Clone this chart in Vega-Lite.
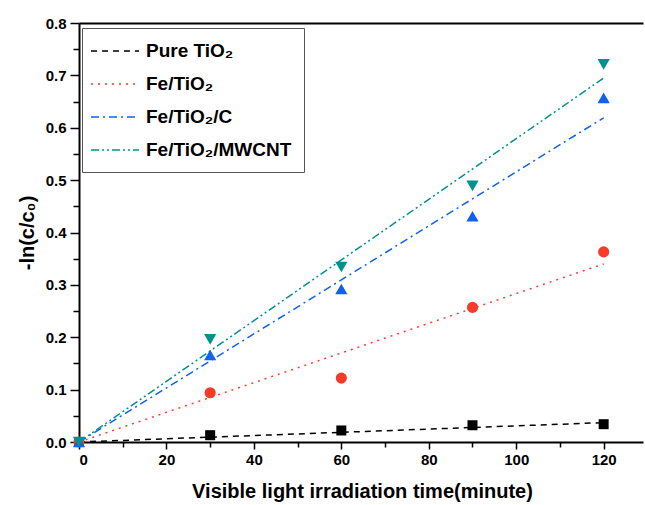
{
  "$schema": "https://vega.github.io/schema/vega-lite/v6.json",
  "width": 564,
  "height": 419,
  "autosize": "none",
  "padding": {"left": 79, "top": 23, "right": 2, "bottom": 63},
  "config": {
    "font": "Liberation Sans",
    "view": {"stroke": null},
    "axis": {"labelFontWeight": "bold", "titleFontWeight": "bold", "labelColor": "black", "titleColor": "black", "domainColor": "black", "tickColor": "black", "grid": false}
  },
  "datasets": {
    "points": [
      {"t": 0, "y": 0, "sample": "Pure TiO₂"},
      {"t": 30, "y": 0.013, "sample": "Pure TiO₂"},
      {"t": 60, "y": 0.022, "sample": "Pure TiO₂"},
      {"t": 90, "y": 0.032, "sample": "Pure TiO₂"},
      {"t": 120, "y": 0.034, "sample": "Pure TiO₂"},
      {"t": 0, "y": 0, "sample": "Fe/TiO₂"},
      {"t": 30, "y": 0.094, "sample": "Fe/TiO₂"},
      {"t": 60, "y": 0.122, "sample": "Fe/TiO₂"},
      {"t": 90, "y": 0.257, "sample": "Fe/TiO₂"},
      {"t": 120, "y": 0.363, "sample": "Fe/TiO₂"},
      {"t": 0, "y": 0, "sample": "Fe/TiO₂/C"},
      {"t": 30, "y": 0.166, "sample": "Fe/TiO₂/C"},
      {"t": 60, "y": 0.292, "sample": "Fe/TiO₂/C"},
      {"t": 90, "y": 0.431, "sample": "Fe/TiO₂/C"},
      {"t": 120, "y": 0.657, "sample": "Fe/TiO₂/C"},
      {"t": 0, "y": 0, "sample": "Fe/TiO₂/MWCNT"},
      {"t": 30, "y": 0.196, "sample": "Fe/TiO₂/MWCNT"},
      {"t": 60, "y": 0.334, "sample": "Fe/TiO₂/MWCNT"},
      {"t": 90, "y": 0.489, "sample": "Fe/TiO₂/MWCNT"},
      {"t": 120, "y": 0.721, "sample": "Fe/TiO₂/MWCNT"}
    ],
    "fits": [
      {"t": 0, "y": 0, "series": "Pure TiO₂"},
      {"t": 120, "y": 0.037, "series": "Pure TiO₂"},
      {"t": 0, "y": 0, "series": "Fe/TiO₂"},
      {"t": 120, "y": 0.34, "series": "Fe/TiO₂"},
      {"t": 0, "y": 0, "series": "Fe/TiO₂/C"},
      {"t": 120, "y": 0.619, "series": "Fe/TiO₂/C"},
      {"t": 0, "y": 0, "series": "Fe/TiO₂/MWCNT"},
      {"t": 120, "y": 0.695, "series": "Fe/TiO₂/MWCNT"}
    ]
  },
  "resolve": {"axis": {"x": "independent", "y": "independent"}},
  "layer": [
    {
      "data": {"name": "fits"},
      "mark": {"type": "line", "strokeWidth": 1.5},
      "encoding": {
        "x": {"field": "t", "type": "quantitative", "scale": {"domain": [0, 129], "nice": false, "zero": false},
          "axis": {"orient": "bottom", "title": "Visible light irradiation time(minute)", "values": [0, 20, 40, 60, 80, 100, 120], "labelFontSize": 15, "titleFontSize": 20, "tickSize": 7, "tickWidth": 1.5, "domainWidth": 2, "labelPadding": 3, "titlePadding": 14, "titleX": 283}},
        "y": {"field": "y", "type": "quantitative", "scale": {"domain": [0, 0.8], "nice": false},
          "axis": {"orient": "left", "title": "-ln(c/c₀)", "values": [0, 0.1, 0.2, 0.3, 0.4, 0.5, 0.6, 0.7, 0.8], "format": ".1f", "labelFontSize": 15, "titleFontSize": 20, "tickSize": 9, "tickWidth": 1.5, "domainWidth": 2, "labelPadding": 4, "titlePadding": 8}},
        "color": {"field": "series", "type": "nominal",
          "scale": {"domain": ["Pure TiO₂", "Fe/TiO₂", "Fe/TiO₂/C", "Fe/TiO₂/MWCNT"], "range": ["#000000", "#f83a2a", "#1060f2", "#00928e"]},
          "legend": {"title": null, "orient": "none", "legendX": 3, "legendY": 5, "symbolType": "M-1.4,0L3.4,0", "symbolSize": 400, "symbolStrokeWidth": 1.5, "labelFontSize": 19, "labelFontWeight": "bold", "labelColor": "black", "labelOffset": 30, "rowPadding": 12, "padding": 12, "strokeColor": "#555555", "fillColor": "white", "labelLimit": 300}},
        "strokeDash": {"field": "series", "type": "nominal",
          "scale": {"domain": ["Pure TiO₂", "Fe/TiO₂", "Fe/TiO₂/C", "Fe/TiO₂/MWCNT"], "range": [[6, 5], [2, 5], [8, 4, 2, 4], [8, 3, 2, 3, 2, 3]]},
          "legend": {"title": null, "orient": "none", "legendX": 3, "legendY": 5, "symbolType": "M-1.4,0L3.4,0", "symbolSize": 400, "symbolStrokeWidth": 1.5, "labelFontSize": 19, "labelFontWeight": "bold", "labelColor": "black", "labelOffset": 30, "rowPadding": 12, "padding": 12, "strokeColor": "#555555", "fillColor": "white", "labelLimit": 300}}
      }
    },
    {
      "data": {"name": "points"},
      "transform": [{"filter": "datum.sample === 'Pure TiO₂'"}],
      "mark": {"type": "point", "filled": true, "opacity": 1, "strokeWidth": 0, "shape": "square", "size": 100, "color": "#000000"},
      "encoding": {
        "x": {"field": "t", "type": "quantitative",
          "axis": {"orient": "bottom", "title": null, "values": [10, 30, 50, 70, 90, 110], "labels": false, "domain": false, "tickSize": 5, "tickWidth": 1.5}},
        "y": {"field": "y", "type": "quantitative",
          "axis": {"orient": "left", "title": null, "values": [0.05, 0.15, 0.25, 0.35, 0.45, 0.55, 0.65, 0.75], "labels": false, "domain": false, "tickSize": 6, "tickWidth": 1.5}}
      }
    },
    {
      "data": {"name": "points"},
      "transform": [{"filter": "datum.sample === 'Fe/TiO₂'"}],
      "mark": {"type": "point", "filled": true, "opacity": 1, "strokeWidth": 0, "shape": "circle", "size": 125, "color": "#f83a2a"},
      "encoding": {
        "x": {"field": "t", "type": "quantitative", "axis": null},
        "y": {"field": "y", "type": "quantitative", "axis": null}
      }
    },
    {
      "data": {"name": "points"},
      "transform": [{"filter": "datum.sample === 'Fe/TiO₂/C'"}],
      "mark": {"type": "point", "filled": true, "opacity": 1, "strokeWidth": 0, "shape": "triangle-up", "size": 150, "color": "#1060f2"},
      "encoding": {
        "x": {"field": "t", "type": "quantitative", "axis": null},
        "y": {"field": "y", "type": "quantitative", "axis": null}
      }
    },
    {
      "data": {"name": "points"},
      "transform": [{"filter": "datum.sample === 'Fe/TiO₂/MWCNT'"}],
      "mark": {"type": "point", "filled": true, "opacity": 1, "strokeWidth": 0, "shape": "triangle-down", "size": 150, "color": "#00928e"},
      "encoding": {
        "x": {"field": "t", "type": "quantitative",
          "axis": {"orient": "top", "title": null, "labels": false, "ticks": false, "domain": true, "domainWidth": 2}},
        "y": {"field": "y", "type": "quantitative", "axis": null}
      }
    }
  ]
}
